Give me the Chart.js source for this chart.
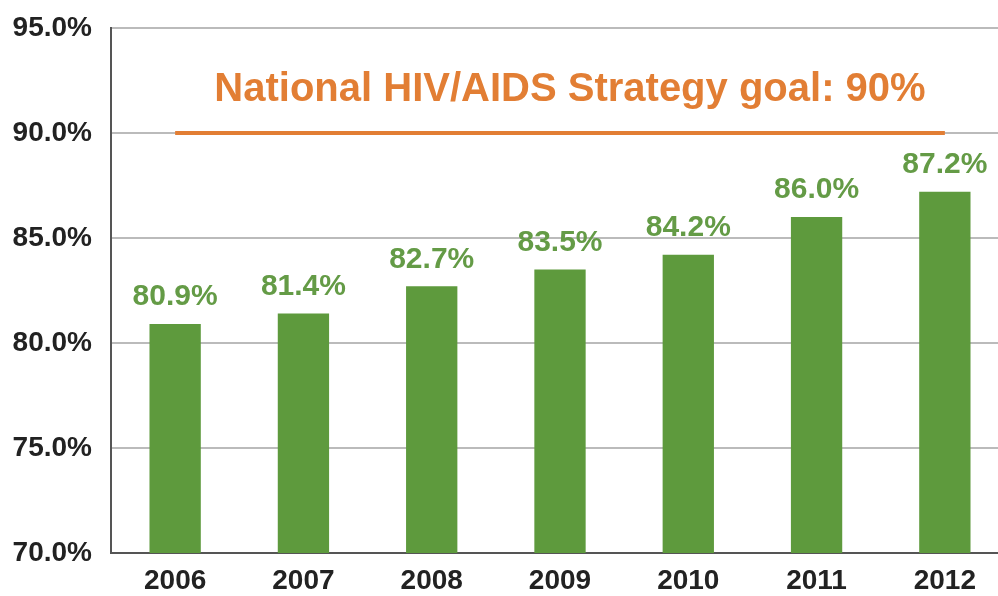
<!DOCTYPE html>
<html>
<head>
<meta charset="utf-8">
<script src="https://cdn.jsdelivr.net/npm/chart.js@4/dist/chart.umd.min.js"></script>
<style>
  html, body { margin: 0; padding: 0; background: #fff; overflow: hidden; }
  #wrap { width: 1012px; height: 596px; }
</style>
</head>
<body>
<div id="wrap"><canvas id="myChart" width="1012" height="596"></canvas></div>
<script>
const years = ['2006', '2007', '2008', '2009', '2010', '2011', '2012'];
const percentValues = [80.9, 81.4, 82.7, 83.5, 84.2, 86.0, 87.2];
const goalValues = [90, 90, 90, 90, 90, 90, 90];
const goalText = 'National HIV/AIDS Strategy goal: 90%';
const yTicks = [70, 75, 80, 85, 90, 95];

const green = 'rgb(94, 154, 61)';
const greenText = 'rgb(100, 155, 70)';
const orange = 'rgb(226, 126, 52)';

// labels above bars + goal caption
const labelPlugin = {
    id: 'labelPlugin',
    afterDatasetsDraw(chart) {
        const ctx = chart.ctx;
        const meta = chart.getDatasetMeta(0);
        ctx.save();
        ctx.fillStyle = greenText;
        ctx.font = 'bold 30px "Liberation Sans", Arial, sans-serif';
        ctx.textAlign = 'center';
        ctx.textBaseline = 'middle';
        meta.data.forEach((bar, i) => {
            ctx.fillText(percentValues[i].toFixed(1) + '%', bar.x, bar.y - 27);
        });
        const y = chart.scales.y;
        ctx.fillStyle = orange;
        ctx.font = 'bold 40px "Liberation Sans", Arial, sans-serif';
        ctx.fillText(goalText, 570, y.getPixelForValue(goalValues[0]) - 43);
        ctx.restore();
    }
};

const data = {
    labels: years,
    datasets: [{
        type: 'bar',
        label: 'Percent',
        data: percentValues,
        backgroundColor: green,
        barPercentage: 0.4,
        categoryPercentage: 1.0,
        order: 1
    }, {
        type: 'line',
        label: 'Goal',
        data: goalValues,
        borderColor: orange,
        borderWidth: 4,
        pointRadius: 0,
        fill: false,
        order: 0
    }]
};

const tickFont = { family: '"Liberation Sans", Arial, sans-serif', size: 28, weight: 'bold' };

const config = {
    type: 'bar',
    data: data,
    options: {
        responsive: false,
        animation: false,
        layout: { padding: { top: 28, right: 3, left: 0, bottom: 0 } },
        plugins: {
            legend: { display: false },
            tooltip: { enabled: false }
        },
        scales: {
            x: {
                grid: { display: false, drawTicks: false },
                border: { color: '#555', width: 2 },
                ticks: { color: '#222', padding: 11, font: tickFont },
                afterFit(scale) { scale.height = 43; scale.paddingLeft = 0; scale.paddingRight = 0; }
            },
            y: {
                min: 70,
                max: 95,
                afterBuildTicks(scale) { scale.ticks = yTicks.map(v => ({ value: v })); },
                grid: { color: '#bbbbbb', lineWidth: 2, drawTicks: false },
                border: { color: '#555', width: 2 },
                ticks: {
                    color: '#222',
                    padding: 19,
                    font: tickFont,
                    callback: v => v.toFixed(1) + '%'
                },
                afterFit(scale) { scale.width = 111; scale.paddingTop = 0; scale.paddingBottom = 0; }
            }
        }
    },
    plugins: [labelPlugin]
};

const myChart = new Chart(document.getElementById('myChart'), config);
</script>
</body>
</html>
